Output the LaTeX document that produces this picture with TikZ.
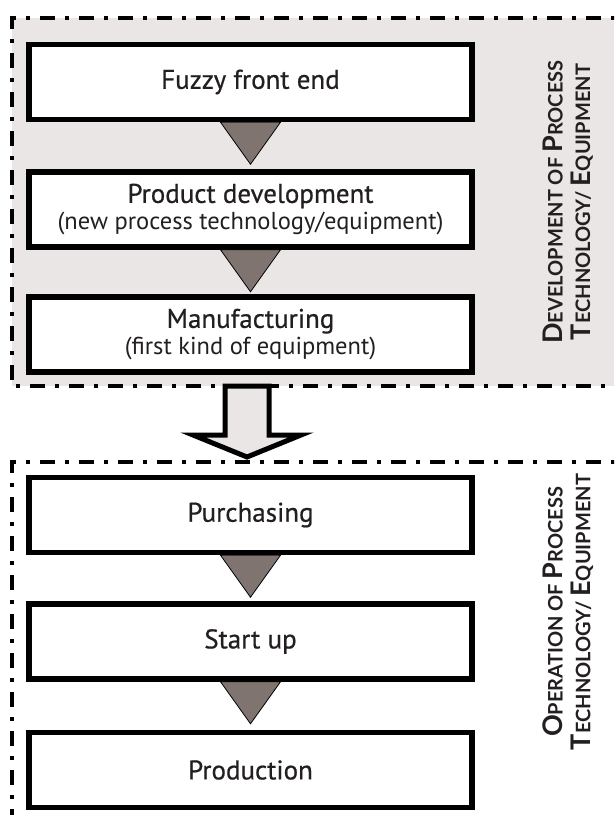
\documentclass[tikz,border=0pt]{standalone}
\usepackage{fontspec}
\setmainfont{PT Sans}
\newfontface\medfont{PT Sans}[FakeBold=0.6]
\newfontfamily\labfont{Lato}
\usetikzlibrary{calc}
\definecolor{regiongray}{HTML}{E9E6E5}
\definecolor{trigray}{HTML}{7F7470}
\definecolor{txt}{HTML}{231F20}
\newcommand\bigc[1]{{\fontsize{27}{27}\selectfont #1}}
\newcommand\smc[1]{{\fontsize{20}{20}\selectfont #1}}
\newcommand\subl[1]{{\fontsize{24.5}{28}\selectfont #1}}
\tikzset{
  stepbox/.style={draw=black, fill=white, line width=5.5pt, minimum width=443pt,
    minimum height=75pt, inner sep=0pt, align=center, text=txt,
    font=\fontsize{27}{30}\medfont},
  tri/.style={draw=black, fill=trigray, line width=0.8pt, line join=miter},
  region/.style={draw=black, line width=4pt, dash pattern=on 15pt off 10pt on 4pt off 10pt},
  sidelab/.style={rotate=90, align=center, text=txt, font=\labfont\bfseries, inner sep=0pt}
}
\begin{document}
\begin{tikzpicture}[x=1pt,y=-1pt]
\clip (0,0) rectangle (614,815);
\fill[white] (0,0) rectangle (614,815);
% top region
\fill[regiongray] (12,18) rectangle (640,386);
\draw[region] (640,18) -- (12,18) -- (12,386) -- (640,386);
% bottom region
\draw[region] (640,462) -- (12,462) -- (12,840);

% boxes
\node[stepbox] (b1) at (250.5,82) {Fuzzy front end};
\node[stepbox] (b2) at (250.5,209.5) {Product development\\[-3pt]\subl{\rmfamily (new process technology/equipment)}};
\node[stepbox] (b3) at (250.5,334.5) {Manufacturing\\[-3pt]\subl{\rmfamily (first kind of equipment)}};
\node[stepbox] (b4) at (250.5,515) {Purchasing};
\node[stepbox] (b5) at (250.5,641.5) {Start up};
\node[stepbox] (b6) at (250.5,770) {Production};

% triangles
\foreach \a in {b1,b2,b4,b5}{
  \draw[tri] ([xshift=-30pt]\a.south) -- ([xshift=30pt]\a.south) -- ($(\a.south)+(0,42)$) -- cycle;
}

% big hollow arrow
\coordinate (atop) at (247,386);
\coordinate (atip) at (247,457);
\draw[line width=5pt, fill=regiongray, line join=miter]
  ($(atop)+(-22,0)$) -- ($(atop)+(-22,49)$) -- ($(atop)+(-54,49)$) -- (atip)
  -- ($(atop)+(54,49)$) -- ($(atop)+(22,49)$) -- ($(atop)+(22,0)$) -- cycle;

% side labels
\node[sidelab] (l1) at (568,202) {\bigc{D}\smc{EVELOPMENT OF }\bigc{P}\smc{ROCESS}\\[7pt]\bigc{T}\smc{ECHNOLOGY/ }\bigc{E}\smc{QUIPMENT}};
\node[sidelab] (l2) at (568,612) {\bigc{O}\smc{PERATION OF }\bigc{P}\smc{ROCESS}\\[7pt]\bigc{T}\smc{ECHNOLOGY/ }\bigc{E}\smc{QUIPMENT}};
\end{tikzpicture}
\end{document}
